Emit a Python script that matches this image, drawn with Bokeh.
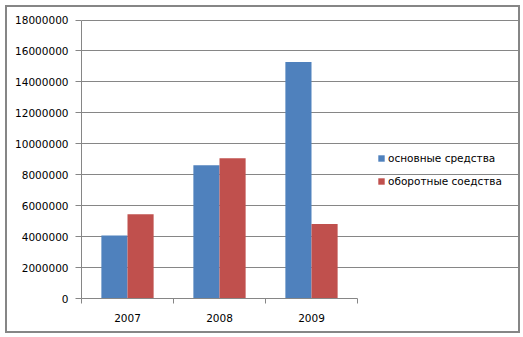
from bokeh.plotting import figure
from bokeh.models import (Range1d, LinearAxis, FixedTicker, BasicTickFormatter, Legend,
                          LegendItem, ColumnDataSource)
from bokeh.transform import dodge
from bokeh.embed import file_html
from bokeh.resources import INLINE

years = ["2007", "2008", "2009"]
fixed_assets = [4080000, 8610000, 15280000]      # основные средства
current_assets = [5440000, 9060000, 4810000]     # оборотные соедства
series_names = ["основные средства", "оборотные соедства"]
y_ticks = list(range(0, 18000001, 2000000))

BLUE = "#4F81BD"
RED = "#C0504D"
GRAY = "#868686"
FONT = "DejaVu Sans"

n = len(years)
xpos = [i + 0.5 for i in range(n)]
src = ColumnDataSource(dict(x=xpos, a=fixed_assets, b=current_assets))

# the frame spans to the right border; the bars occupy the left 276 px of 438 px
x_end = n * 438 / 276

p = figure(width=523, height=337, output_backend="svg", toolbar_location=None,
           x_range=Range1d(0, x_end), y_range=Range1d(0, 18100000),
           x_axis_location=None, y_axis_location=None,
           min_border_left=81, min_border_right=4, min_border_top=18, min_border_bottom=39)
p.outline_line_color = None
p.background_fill_alpha = 0
p.border_fill_alpha = 0
g = "linear-gradient(#868686, #868686)"
p.styles = {
    "background-color": "white",
    "background-image": ", ".join([g] * 4),
    "background-repeat": "no-repeat",
    "background-position": "5px 5px, 5px 5px, 518px 5px, 5px 331px",
    "background-size": "515px 2px, 2px 328px, 2px 328px, 515px 2px",
}

# y axis
yax = LinearAxis(ticker=FixedTicker(ticks=y_ticks),
                 formatter=BasicTickFormatter(use_scientific=False))
yax.axis_line_color = GRAY
yax.major_tick_line_color = GRAY
yax.major_tick_out = 6
yax.major_tick_in = 0
yax.minor_tick_line_color = None
yax.major_label_standoff = 7
yax.major_label_text_font = FONT
yax.major_label_text_font_size = "10.5px"
yax.major_label_text_color = "black"
yax.bounds = (0, 18000000)
p.add_layout(yax, "left")

# x axis: labels at category centres, small ticks at category boundaries
xax = LinearAxis(ticker=FixedTicker(ticks=xpos, minor_ticks=list(range(n + 1))),
                 major_label_overrides={x: y for x, y in zip(xpos, years)})
xax.bounds = (0, n)
xax.axis_line_color = GRAY
xax.major_tick_line_color = None
xax.major_tick_out = 5
xax.major_tick_in = 0
xax.minor_tick_line_color = GRAY
xax.minor_tick_out = 5
xax.minor_tick_in = 0
xax.major_label_standoff = 10
xax.major_label_text_font = FONT
xax.major_label_text_font_size = "10.5px"
xax.major_label_text_color = "black"
p.add_layout(xax, "below")

p.ygrid.ticker = FixedTicker(ticks=y_ticks)
p.ygrid.bounds = (0, n)
p.ygrid.grid_line_color = GRAY
p.xgrid.grid_line_color = None

r1 = p.vbar(x=dodge("x", -0.142), top="a", width=0.284, source=src,
            fill_color=BLUE, line_color=None)
r2 = p.vbar(x=dodge("x", 0.142), top="b", width=0.284, source=src,
            fill_color=RED, line_color=None)

legend = Legend(items=[LegendItem(label=series_names[0], renderers=[r1]),
                       LegendItem(label=series_names[1], renderers=[r2])],
                location=(296, 111), orientation="vertical")
legend.border_line_color = None
legend.background_fill_alpha = 0
legend.padding = 0
legend.margin = 0
legend.spacing = 11
legend.glyph_width = 8
legend.glyph_height = 8
legend.label_height = 12
legend.label_standoff = 3
legend.label_text_font = FONT
legend.label_text_font_size = "10.5px"
legend.label_text_color = "black"
p.add_layout(legend, "center")

open("out.html", "w").write(file_html(p, INLINE))
